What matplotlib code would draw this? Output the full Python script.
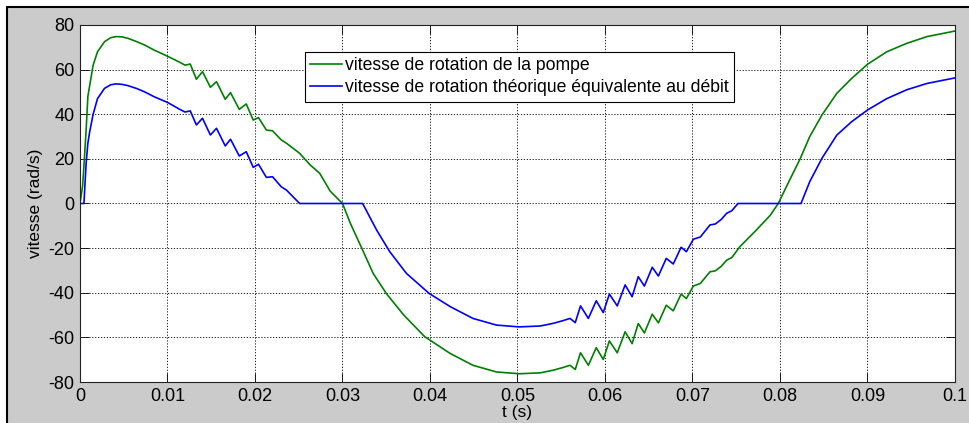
import matplotlib
matplotlib.use("Agg")
import matplotlib.pyplot as plt
from matplotlib.patches import Rectangle

plt.rcParams['font.family'] = ['Liberation Sans', 'DejaVu Sans']
plt.rcParams['axes.unicode_minus'] = False

# ---- data ----
t_pompe = [0.0000, 0.0003, 0.0005, 0.0007, 0.0009, 0.0012, 0.0015, 0.0020, 0.0028, 0.0035,
           0.0041, 0.0048, 0.0055, 0.0065, 0.0074, 0.0085, 0.0100, 0.0114, 0.0120, 0.0126,
           0.0133, 0.0140, 0.0149, 0.0156, 0.0166, 0.0172, 0.0182, 0.0190, 0.0198, 0.0204,
           0.0213, 0.0220, 0.0230, 0.0236, 0.0251, 0.0263, 0.0274, 0.0286, 0.0300, 0.0309,
           0.0322, 0.0335, 0.0350, 0.0370, 0.0394, 0.0423, 0.0449, 0.0476, 0.0502, 0.0526,
           0.0541, 0.0552, 0.0560, 0.0566, 0.0572, 0.0581, 0.0590, 0.0598, 0.0605, 0.0614,
           0.0623, 0.0631, 0.0638, 0.0645, 0.0654, 0.0661, 0.0670, 0.0678, 0.0687, 0.0693,
           0.0701, 0.0709, 0.0720, 0.0726, 0.0733, 0.0739, 0.0745, 0.0754, 0.0773, 0.0789,
           0.0798, 0.0811, 0.0823, 0.0834, 0.0848, 0.0865, 0.0882, 0.0900, 0.0922, 0.0945,
           0.0968, 0.1000]
v_pompe = [0.0, 8.0, 20.0, 33.0, 48.0, 55.0, 62.0, 68.0, 72.5, 74.3,
           74.8, 74.7, 74.0, 72.5, 71.0, 68.7, 66.0, 63.3, 62.0, 62.5,
           55.7, 59.1, 52.1, 54.6, 46.7, 49.7, 42.2, 44.6, 37.4, 38.5,
           32.9, 32.6, 28.5, 27.0, 22.5, 17.3, 13.5, 5.5, 0.0, -8.9,
           -20.0, -31.3, -40.3, -50.0, -59.7, -67.2, -72.5, -75.5, -76.3, -75.9,
           -74.7, -73.5, -72.5, -74.4, -66.9, -72.5, -64.6, -69.9, -61.6, -66.9,
           -57.5, -62.8, -53.8, -58.0, -49.6, -53.5, -45.6, -48.1, -40.6, -42.6,
           -37.0, -35.8, -30.6, -30.2, -28.1, -25.4, -24.2, -19.4, -11.9, -5.2,
           0.0, 10.5, 20.0, 30.0, 39.7, 49.4, 56.1, 62.4, 68.0, 71.8,
           74.8, 77.3]

t_debit = [0.0000, 0.00045, 0.0007, 0.0009, 0.0011, 0.0015, 0.0020, 0.0028, 0.0035, 0.0041,
           0.0048, 0.0055, 0.0065, 0.0074, 0.0085, 0.0100, 0.0114, 0.0120, 0.0126, 0.0133,
           0.0140, 0.0149, 0.0156, 0.0166, 0.0172, 0.0182, 0.0190, 0.0198, 0.0204, 0.0213,
           0.0220, 0.0230, 0.0236, 0.0251, 0.0323, 0.0339, 0.0354, 0.0373, 0.0399, 0.0423,
           0.0449, 0.0476, 0.0502, 0.0526, 0.0541, 0.0552, 0.0560, 0.0566, 0.0572, 0.0581,
           0.0590, 0.0598, 0.0605, 0.0614, 0.0623, 0.0631, 0.0638, 0.0645, 0.0654, 0.0661,
           0.0670, 0.0678, 0.0687, 0.0693, 0.0701, 0.0709, 0.0720, 0.0726, 0.0733, 0.0739,
           0.0745, 0.0752, 0.0824, 0.0834, 0.0848, 0.0865, 0.0882, 0.0900, 0.0922, 0.0945,
           0.0968, 0.1000]
v_debit = [0.0, 0.0, 18.0, 27.0, 32.0, 40.0, 47.0, 51.6, 53.2, 53.6,
           53.4, 52.8, 51.5, 50.0, 47.8, 45.3, 42.2, 41.0, 41.5, 35.2,
           38.2, 30.7, 33.7, 25.8, 28.8, 21.3, 23.2, 16.2, 17.6, 11.7,
           12.0, 7.5, 6.0, 0.0, 0.0, -11.9, -21.6, -31.3, -40.3, -46.2,
           -51.5, -54.5, -55.3, -54.9, -53.7, -52.5, -51.5, -53.4, -45.9, -51.5,
           -43.6, -48.9, -40.6, -45.9, -36.5, -41.8, -32.8, -37.0, -28.6, -32.5,
           -24.6, -27.1, -19.6, -21.6, -16.0, -15.0, -9.6, -9.2, -7.1, -4.4,
           -3.2, 0.0, 0.0, 9.8, 20.3, 30.7, 36.7, 41.9, 47.0, 51.0,
           53.8, 56.3]

x_ticks = [0, 0.01, 0.02, 0.03, 0.04, 0.05, 0.06, 0.07, 0.08, 0.09, 0.1]
x_ticklabels = ['0', '0.01', '0.02', '0.03', '0.04', '0.05', '0.06', '0.07', '0.08', '0.09', '0.1']
y_ticks = [-80, -60, -40, -20, 0, 20, 40, 60, 80]
label_pompe = 'vitesse de rotation de la pompe'
label_debit = 'vitesse de rotation théorique équivalente au débit'

# ---- figure ----
W, H = 970, 423
fig = plt.figure(figsize=(W / 100, H / 100), dpi=100)
fig.patch.set_facecolor('white')
bg = Rectangle((7.5 / W, -0.2), 1.2, 1.2 - 7.5 / H, transform=fig.transFigure,
               facecolor='#cbcbcb', edgecolor='black', linewidth=1.5, zorder=0)
fig.add_artist(bg)

ax = fig.add_axes([80 / W, 1 - 382 / H, 875 / W, 357 / H])
ax.set_facecolor('white')
ax.plot(t_pompe, v_pompe, color='#008000', lw=1.2, label=label_pompe)
ax.plot(t_debit, v_debit, color='#0000ff', lw=1.2, label=label_debit)

ax.set_xlim(0, 0.1)
ax.set_ylim(-80, 80)
ax.set_xticks(x_ticks)
ax.set_xticklabels(x_ticklabels)
ax.set_yticks(y_ticks)
ax.tick_params(direction='in', length=6.5, width=0.6, labelsize=13, top=True, right=True,
               pad=4, colors='black')
ax.grid(True, color='black', linestyle=(0, (1.5, 2.0)), linewidth=0.6)
for s in ax.spines.values():
    s.set_linewidth(0.8)
    s.set_color('#222222')

ax.set_xlabel('t (s)', fontsize=12.5, labelpad=0)
ax.set_ylabel('vitesse (rad/s)', fontsize=12.5, labelpad=4)

leg = ax.legend(loc='upper left', bbox_to_anchor=(0.257, 0.925), fontsize=12.7,
                frameon=True, fancybox=False, framealpha=1, edgecolor='black',
                borderpad=0.3, handlelength=1.8, handletextpad=0.2, labelspacing=0.3,
                borderaxespad=0)
leg.get_frame().set_linewidth(0.8)

fig.savefig('out.png', dpi=100)
